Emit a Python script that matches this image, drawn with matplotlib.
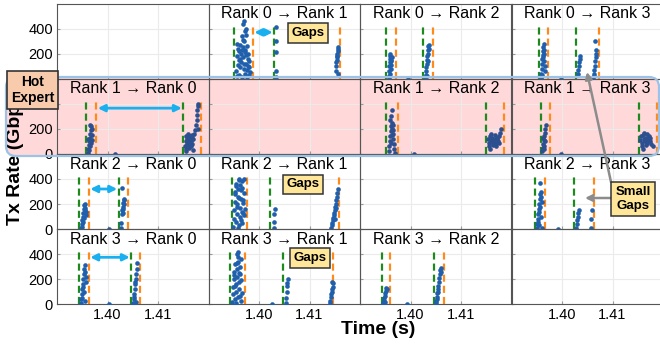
import matplotlib.pyplot as plt
from matplotlib.patches import FancyBboxPatch, FancyArrowPatch

plt.rcParams['font.family'] = ['Liberation Sans', 'DejaVu Sans']

ranks = [0, 1, 2, 3]
hot_rank = 1

# kernel start (green) / end (orange) times per src->dst pair, seconds
green01 = [1.3951, 1.4030]
orange01 = [1.3988, 1.4161]
green02 = [1.3951, 1.4025]
orange02 = [1.3971, 1.4044]
green03 = [1.3954, 1.4027]
orange03 = [1.3973, 1.4074]
green10 = [1.3957, 1.4150]
orange10 = [1.3978, 1.4186]
green12 = [1.3951, 1.4150]
orange12 = [1.3976, 1.4186]
green13 = [1.3958, 1.4152]
orange13 = [1.3977, 1.4188]
green20 = [1.3944, 1.4022]
orange20 = [1.3963, 1.4040]
green21 = [1.3946, 1.4022]
orange21 = [1.3976, 1.4159]
green23 = [1.3946, 1.4023]
orange23 = [1.3967, 1.4064]
green30 = [1.3943, 1.4047]
orange30 = [1.3963, 1.4065]
green31 = [1.3943, 1.4047]
orange31 = [1.3972, 1.4147]
green32 = [1.3943, 1.4047]
orange32 = [1.3959, 1.4067]

# sampled tx rate (Gbps) at time t
t01 = [1.3955, 1.3956, 1.3957, 1.3958, 1.3959, 1.3960, 1.3961, 1.3962, 1.3963, 1.3964, 1.3965, 1.3966,
       1.3967, 1.3968, 1.3969, 1.3970, 1.3971, 1.3972, 1.3973, 1.3974, 1.3975, 1.3976, 1.3977, 1.3978,
       1.3979, 1.3980, 1.3981, 1.3983, 1.3957, 1.3960, 1.3963, 1.3966, 1.3969, 1.3972, 1.3975, 1.3978,
       1.3981, 1.3968, 1.3971, 1.3974, 1.3970, 1.3973, 1.3976,
       1.4033, 1.4033, 1.4033, 1.4033, 1.4033,
       1.4152, 1.4153, 1.4153, 1.4154, 1.4154, 1.4155, 1.4155, 1.4156, 1.4156, 1.4157, 1.4157]
r01 = [60, 180, 20, 240, 110, 150, 30, 270, 90, 200, 130, 230,
       10, 250, 170, 80, 300, 210, 40, 190, 120, 260, 70, 160,
       100, 30, 140, 50, 280, 220, 160, 340, 310, 380, 350, 200,
       90, 440, 460, 400, 120, 230, 15,
       410, 300, 210, 60, 10,
       60, 100, 130, 150, 170, 180, 200, 220, 240, 250, 40]

t02 = [1.3957, 1.3958, 1.3958, 1.3959, 1.3959, 1.3960, 1.3960, 1.3961, 1.3961, 1.3962, 1.3962, 1.3963,
       1.3958, 1.3960, 1.3996,
       1.4029, 1.4030, 1.4031, 1.4031, 1.4032, 1.4033, 1.4033, 1.4034, 1.4035, 1.4035, 1.4036, 1.4037,
       1.4032, 1.4034]
r02 = [20, 60, 100, 130, 160, 180, 200, 150, 110, 80, 140, 170,
       5, 40, 0,
       10, 30, 60, 90, 120, 150, 180, 200, 230, 260, 270, 240,
       20, 140]

t03 = [1.3958, 1.3959, 1.3960, 1.3960, 1.3961, 1.3962, 1.3962, 1.3963, 1.3964, 1.3964, 1.3965, 1.3966,
       1.3967, 1.3961, 1.3963, 1.3965, 1.3959, 1.3998,
       1.4031, 1.4032, 1.4033, 1.4034, 1.4035, 1.4036,
       1.4062, 1.4063, 1.4064, 1.4065, 1.4066, 1.4067, 1.4067, 1.4068, 1.4066, 1.4064]
r03 = [10, 40, 80, 120, 160, 190, 220, 250, 280, 200, 140, 100,
       60, 30, 170, 230, 5, 0,
       40, 70, 100, 130, 160, 180,
       10, 40, 70, 100, 140, 170, 200, 230, 300, 20]

t10 = [1.3961, 1.3962, 1.3963, 1.3964, 1.3965, 1.3966, 1.3967, 1.3968, 1.3969, 1.3970, 1.3962, 1.3964,
       1.3966, 1.3968, 1.3970, 1.3965, 1.4015,
       1.4154, 1.4155, 1.4156, 1.4157, 1.4158, 1.4159, 1.4160, 1.4161, 1.4162, 1.4163, 1.4164, 1.4165,
       1.4166, 1.4167, 1.4168, 1.4156, 1.4158, 1.4160, 1.4162, 1.4164, 1.4166, 1.4168, 1.4170, 1.4172,
       1.4174, 1.4176, 1.4177, 1.4178, 1.4178, 1.4179, 1.4180, 1.4180, 1.4155, 1.4170]
r10 = [10, 40, 70, 100, 130, 160, 190, 220, 200, 150, 120, 30,
       60, 90, 110, 230, 0,
       60, 100, 140, 80, 120, 150, 90, 130, 110, 70, 140, 100,
       120, 80, 130, 40, 70, 160, 50, 90, 60, 150, 120, 160,
       190, 230, 270, 310, 350, 380, 400, 200, 20, 30]

t12 = [1.3957, 1.3958, 1.3959, 1.3960, 1.3961, 1.3962, 1.3963, 1.3964, 1.3965, 1.3966, 1.3967, 1.3968,
       1.3969, 1.3960, 1.3962, 1.3964, 1.3966, 1.3963, 1.3961, 1.3965, 1.4007,
       1.4153, 1.4155, 1.4157, 1.4159, 1.4161, 1.4163, 1.4165, 1.4167, 1.4169, 1.4171, 1.4173, 1.4175,
       1.4177, 1.4179, 1.4156, 1.4160, 1.4164, 1.4168, 1.4172, 1.4176, 1.4162, 1.4166, 1.4170, 1.4158]
r12 = [20, 60, 100, 140, 180, 220, 250, 200, 160, 120, 80, 40,
       10, 270, 300, 350, 230, 150, 90, 190, 0,
       120, 90, 140, 100, 130, 80, 110, 150, 90, 120, 100, 140,
       170, 200, 60, 160, 70, 120, 130, 90, 110, 100, 60, 40]

t13 = [1.3961, 1.3962, 1.3963, 1.3964, 1.3965, 1.3966, 1.3967, 1.3968, 1.3962, 1.3964, 1.3966, 1.3965,
       1.3999,
       1.4155, 1.4157, 1.4159, 1.4161, 1.4163, 1.4165, 1.4167, 1.4169, 1.4171, 1.4173, 1.4175, 1.4177,
       1.4158, 1.4162, 1.4166, 1.4170, 1.4174, 1.4160, 1.4164, 1.4168, 1.4180]
r13 = [20, 50, 80, 110, 140, 170, 200, 230, 130, 60, 100, 40,
       0,
       110, 140, 90, 150, 120, 100, 130, 160, 110, 140, 100, 80,
       60, 170, 70, 120, 130, 40, 110, 90, 60]

t20 = [1.3948, 1.3949, 1.3950, 1.3951, 1.3952, 1.3953, 1.3954, 1.3955, 1.3956, 1.3957, 1.3958, 1.3950,
       1.3952, 1.3954, 1.3956, 1.4003,
       1.4026, 1.4027, 1.4028, 1.4029, 1.4030, 1.4031, 1.4032, 1.4033, 1.4028, 1.4030, 1.4031, 1.4032]
r20 = [10, 40, 70, 100, 130, 160, 190, 200, 170, 140, 110, 20,
       60, 90, 150, 0,
       10, 50, 120, 150, 180, 210, 240, 200, 330, 160, 130, 230]

t21 = [1.3949, 1.3950, 1.3951, 1.3952, 1.3953, 1.3954, 1.3955, 1.3956, 1.3957, 1.3958, 1.3959, 1.3960,
       1.3961, 1.3962, 1.3963, 1.3964, 1.3965, 1.3966, 1.3967, 1.3968, 1.3969, 1.3970, 1.3971, 1.3972,
       1.3955, 1.3958, 1.3961, 1.3964, 1.3967, 1.3970, 1.3957, 1.3960, 1.3963, 1.3966, 1.3969, 1.3953,
       1.4029, 1.4030, 1.4030, 1.4031,
       1.4143, 1.4144, 1.4145, 1.4146, 1.4147, 1.4148, 1.4149, 1.4150, 1.4151, 1.4152, 1.4153, 1.4154,
       1.4155, 1.4156, 1.4150, 1.4153]
r21 = [20, 80, 150, 220, 280, 340, 60, 120, 200, 260, 320, 390,
       30, 100, 170, 240, 310, 380, 50, 130, 210, 290, 400, 160,
       360, 10, 250, 70, 330, 110, 180, 400, 350, 140, 230, 300,
       10, 60, 120, 160,
       10, 30, 50, 70, 90, 110, 130, 150, 180, 200, 230, 260,
       290, 320, 80, 170]

t23 = [1.3950, 1.3951, 1.3952, 1.3953, 1.3954, 1.3955, 1.3956, 1.3957, 1.3958, 1.3959, 1.3960, 1.3952,
       1.3954, 1.3956, 1.3958, 1.3955, 1.3957, 1.3960, 1.3992,
       1.4028, 1.4029, 1.4030, 1.4031, 1.4032, 1.4033,
       1.4057, 1.4058, 1.4059]
r23 = [10, 40, 80, 120, 160, 200, 240, 280, 300, 260, 220, 60,
       140, 180, 100, 30, 370, 5, 0,
       10, 40, 70, 100, 130, 150,
       10, 80, 150]

t30 = [1.3947, 1.3948, 1.3949, 1.3950, 1.3951, 1.3952, 1.3953, 1.3954, 1.3955, 1.3956, 1.3957, 1.3958,
       1.3949, 1.3951, 1.3953, 1.3955, 1.4003,
       1.4051, 1.4052, 1.4053, 1.4054, 1.4055, 1.4056, 1.4057, 1.4058, 1.4059, 1.4053, 1.4055, 1.4057]
r30 = [10, 40, 80, 120, 160, 200, 240, 280, 310, 260, 220, 180,
       50, 140, 100, 30, 0,
       10, 40, 80, 120, 160, 200, 240, 280, 330, 60, 180, 20]

t31 = [1.3947, 1.3948, 1.3949, 1.3950, 1.3951, 1.3952, 1.3953, 1.3954, 1.3955, 1.3956, 1.3957, 1.3958,
       1.3959, 1.3960, 1.3961, 1.3962, 1.3963, 1.3964, 1.3965, 1.3966, 1.3950, 1.3953, 1.3956, 1.3959,
       1.3962, 1.3965, 1.3955, 1.3958, 1.3961, 1.3957, 1.4026,
       1.4053, 1.4054, 1.4055, 1.4056, 1.4057, 1.4055,
       1.4140, 1.4141, 1.4142, 1.4143, 1.4144, 1.4145, 1.4146, 1.4147, 1.4144]
r31 = [20, 80, 140, 200, 260, 320, 40, 100, 160, 220, 280, 340,
       60, 120, 180, 240, 300, 360, 30, 90, 230, 150, 400, 420,
       70, 190, 10, 380, 250, 330, 0,
       10, 50, 100, 150, 200, 170,
       10, 30, 60, 80, 100, 120, 140, 170, 180]

t32 = [1.3946, 1.3947, 1.3948, 1.3949, 1.3950, 1.3951, 1.3952, 1.3953, 1.3949, 1.3994,
       1.4050, 1.4051, 1.4052, 1.4053, 1.4054, 1.4055, 1.4056, 1.4057, 1.4058, 1.4059, 1.4060, 1.4061,
       1.4052, 1.4055]
r32 = [10, 30, 50, 70, 90, 110, 130, 120, 20, 0,
       10, 30, 60, 90, 120, 150, 180, 210, 240, 270, 290, 260,
       40, 100]

panels = {
    (0, 1): (t01, r01, green01, orange01),
    (0, 2): (t02, r02, green02, orange02),
    (0, 3): (t03, r03, green03, orange03),
    (1, 0): (t10, r10, green10, orange10),
    (1, 2): (t12, r12, green12, orange12),
    (1, 3): (t13, r13, green13, orange13),
    (2, 0): (t20, r20, green20, orange20),
    (2, 1): (t21, r21, green21, orange21),
    (2, 3): (t23, r23, green23, orange23),
    (3, 0): (t30, r30, green30, orange30),
    (3, 1): (t31, r31, green31, orange31),
    (3, 2): (t32, r32, green32, orange32),
}

# height (Gbps) of the blue gap arrows
gap_arrows = {(0, 1): 370, (1, 0): 365, (2, 0): 320, (3, 0): 375}

W, H = 660, 347
fig = plt.figure(figsize=(W / 100, H / 100), dpi=100)

# highlight band behind the hot-expert row
band_kw = dict(boxstyle='round,pad=0,rounding_size=0.1', transform=fig.dpi_scale_trans)
band_xy = (0.06, (H - 156) / 100)
band_w, band_h = 6.53, 0.79
fig.add_artist(FancyBboxPatch(band_xy, band_w, band_h, fc='#ffd9d9', ec='none', zorder=-1, **band_kw))
fig.add_artist(FancyBboxPatch(band_xy, band_w, band_h, fc='none', ec='#9cc2e8', lw=1.6, zorder=5, **band_kw))

left, colw, top, rowh = 57, 151.5, 3.5, 75.2
for i in ranks:
    for j in ranks:
        ax = fig.add_axes([(left + j * colw) / W, 1 - (top + (i + 1) * rowh) / H, colw / W, rowh / H])
        ax.patch.set_alpha(0)
        ax.set_xlim(1.390, 1.420)
        ax.set_ylim(0, 600)
        ax.set_xticks([1.40, 1.41])
        ax.set_yticks([0, 200, 400])
        ax.grid(True, color='#ebebeb', lw=0.8)
        ax.set_axisbelow(True)
        ax.tick_params(direction='in', length=2.5, color='#999999', labelsize=10.5, pad=3)
        for s in ax.spines.values():
            s.set_color('#555555')
            s.set_linewidth(0.8)
        if j > 0:
            ax.set_yticklabels([])
        if i < 3:
            ax.set_xticklabels([])
        else:
            ax.set_xticklabels(['1.40', '1.41'])

        if (i, j) not in panels:
            continue
        t, r, g, o = panels[(i, j)]
        dot = '#2c4f90' if i == hot_rank else '#1f5fab'
        ax.vlines(g, 0, 430, colors='#1e8a1e', linestyles=(0, (3.2, 1.8)), lw=1.6, zorder=2)
        ax.vlines(o, 0, 430, colors='#ff8a1c', linestyles=(0, (3.2, 1.8)), lw=1.6, zorder=2)
        ax.scatter(t, r, s=11, color=dot, linewidths=0, zorder=3)
        ax.text(0.5, 0.965, f'Rank {i} \u2192 Rank {j}', transform=ax.transAxes,
                ha='center', va='top', fontsize=11.5)
        if (i, j) in gap_arrows:
            y = gap_arrows[(i, j)]
            ax.annotate('', xy=(g[1], y), xytext=(o[0], y),
                        arrowprops=dict(arrowstyle='<|-|>', color='#1ab0f0', lw=2,
                                        mutation_scale=10, shrinkA=1, shrinkB=1))

fig.text(15.5 / W, 1 - 156 / H, 'Tx Rate (Gbps)', rotation=90, ha='center', va='center',
         fontsize=14, fontweight='bold')
fig.text(378 / W, 1 - 330 / H, 'Time (s)', ha='center', va='center', fontsize=14, fontweight='bold')

fig.text(32.5 / W, 1 - 90 / H, 'Hot\nExpert', ha='center', va='center', fontsize=10,
         fontweight='bold', linespacing=1.15, zorder=10,
         bbox=dict(boxstyle='square,pad=0.3', fc='#f8cbad', ec='#333333', lw=1.2))

gap_box = dict(boxstyle='square,pad=0.3', fc='#ffe699', ec='#333333', lw=1.1)
for cx, cy in [(308, 33), (303, 184.5), (310, 258)]:
    fig.text(cx / W, 1 - cy / H, 'Gaps', ha='center', va='center', fontsize=9.5,
             fontweight='bold', bbox=gap_box, zorder=10)

gray = '#8c8c8c'
for (x0, y0), (x1, y1) in [((611, 182), (587, 72)), ((611, 198), (585, 198))]:
    fig.add_artist(FancyArrowPatch((x0 / W, 1 - y0 / H), (x1 / W, 1 - y1 / H),
                                   transform=fig.transFigure, arrowstyle='-|>', color=gray,
                                   lw=1.8, mutation_scale=10, shrinkA=0, shrinkB=0, zorder=9))
fig.text(633 / W, 1 - 199 / H, 'Small\nGaps', ha='center', va='center', fontsize=9.5,
         fontweight='bold', linespacing=1.15, bbox=gap_box, zorder=10)

fig.savefig('out.png', dpi=100)
